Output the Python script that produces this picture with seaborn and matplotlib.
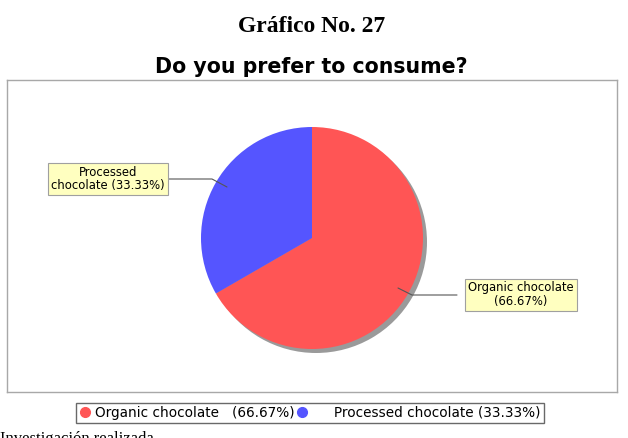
import matplotlib
matplotlib.use("Agg")
import matplotlib.pyplot as plt
from matplotlib.lines import Line2D
import seaborn as sns

# Data
categories = ["Organic chocolate", "Processed chocolate"]
shares = [66.67, 33.33]
legend_labels = ["Organic chocolate   (66.67%)", "     Processed chocolate (33.33%)"]
callout_labels = ["Organic chocolate\n(66.67%)", "Processed\nchocolate (33.33%)"]
colors = ["#FF5555", "#5555FF"]

W, H = 628, 438

sns.set_theme(style="white")
plt.rcParams['font.family'] = ['DejaVu Sans']
plt.rcParams['text.color'] = 'black'

fig = plt.figure(figsize=(W / 100, H / 100), dpi=100)
fig.patch.set_facecolor("white")

# plot box in pixel units (x: 7..617, y: image 80..392)
x0, x1, ytop, ybot = 7, 617, 80, 392
ax = fig.add_axes([x0 / W, 1 - ybot / H, (x1 - x0) / W, (ybot - ytop) / H])

cx, cy, r = 312, H - 238, 111

# shadow
ax.pie(shares, colors=["#9a9a9a", "#9a9a9a"], startangle=90, counterclock=False,
       center=(cx + 4, cy - 4), radius=r, frame=True,
       wedgeprops=dict(linewidth=0))
ax.pie(shares, colors=colors, startangle=90, counterclock=False,
       center=(cx, cy), radius=r, frame=True,
       wedgeprops=dict(linewidth=0))
ax.set_xlim(x0, x1)
ax.set_ylim(H - ybot, H - ytop)
ax.set_xticks([])
ax.set_yticks([])
ax.set_aspect("auto")
for s in ax.spines.values():
    s.set_color("#a8a8a8")
    s.set_linewidth(1.0)

box = dict(boxstyle="square,pad=0.25", fc="#FFFFC0", ec="#a0a0a0", lw=0.8)

# Organic callout
ax.plot([398, 412, 457], [H - 288, H - 295, H - 295], color="#555555", lw=0.8)
ax.text(521, H - 295, callout_labels[0], ha="center", va="center",
        fontsize=8.4, bbox=box, linespacing=1.1)

# Processed callout
ax.plot([227, 212, 168], [H - 187, H - 179, H - 179], color="#555555", lw=0.8)
ax.text(108, H - 179, callout_labels[1], ha="center", va="center",
        fontsize=8.4, bbox=box, linespacing=1.1)

# titles
fig.text(312 / W, 1 - 27 / H, "Gráfico No. 27", ha="center", va="center",
         fontsize=17, fontweight="bold", family="Liberation Serif")
fig.text(311 / W, 1 - 67 / H, "Do you prefer to consume?", ha="center", va="center",
         fontsize=14.8, fontweight="bold")

# legend
handles = [Line2D([], [], marker="o", linestyle="", color=c, markersize=7)
           for c in colors]
leg = fig.legend(handles, legend_labels, loc="center", ncol=2,
                 bbox_to_anchor=(310 / W, 1 - 413 / H), fontsize=9.8,
                 frameon=True, fancybox=False, handletextpad=0.3,
                 columnspacing=0.2, borderpad=0.25, handlelength=0.8)
leg.get_frame().set_edgecolor("#444444")
leg.get_frame().set_linewidth(1.0)

fig.text(0, 1 - 431 / H, "Investigación realizada", ha="left", va="top",
         fontsize=12, family="Liberation Serif")

fig.savefig("out.png", dpi=100)
